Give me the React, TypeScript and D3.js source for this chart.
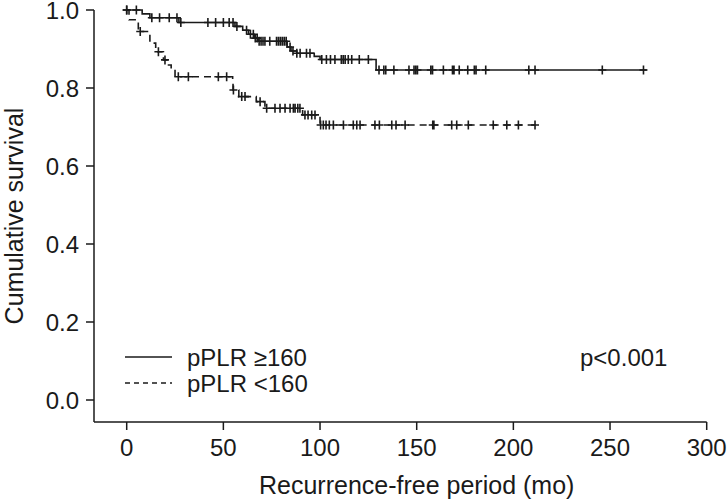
import React from "react";
import * as d3 from "d3";

// Kaplan-Meier step data: [time (mo), survival after event]
const highSteps: [number, number][] = [
  [0, 1.0], [8, 0.99], [12, 0.98], [27, 0.968], [56, 0.958], [60, 0.948],
  [63, 0.938], [66, 0.928], [68, 0.92], [83, 0.905], [85, 0.895], [88, 0.889],
  [97, 0.881], [100, 0.873], [129, 0.846],
];
const highEnd = 269;
const highCensor: number[] = [
  0, 5, 13, 17, 22, 26, 28, 42, 46, 50, 53, 55, 57, 62, 64, 65.5, 66.5, 67.5, 68.5,
  69.5, 70.5, 71.5, 74, 77.5, 78.5, 79.5, 80.5, 81.5, 82.5, 84.5, 86, 88, 89.7, 93,
  94.8, 100.9, 103.3, 105.4, 107.7, 111, 112, 113, 114.6, 116.4, 120.3, 125, 130.5,
  133, 134, 138.2, 146, 148.6, 149.5, 150.4, 157.3, 158.2, 163.8, 168.5, 169.3, 172,
  176.4, 179.8, 180.7, 185.7, 208, 211.2, 246, 267.3,
];

const lowSteps: [number, number][] = [
  [0, 1.0], [1.2, 0.975], [6, 0.945], [12, 0.915], [15, 0.893], [19, 0.872],
  [21, 0.859], [23, 0.845], [25, 0.829], [54.8, 0.812], [55, 0.795], [58, 0.778],
  [67, 0.765], [71.5, 0.748], [91, 0.731], [100, 0.705],
];
const lowEnd = 212.9;
const lowCensor: number[] = [
  0, 7, 16.4, 19.8, 26.7, 31.9, 47.4, 51.7, 55.2, 59.5, 61.2, 69, 72.4, 76.7, 79.3,
  81.9, 84.5, 86.2, 87.1, 88.5, 89.6, 92.2, 93.8, 95.7, 97.4, 100.3, 101.7, 103.1,
  104.8, 106.9, 112.1, 117.2, 119, 120.7, 128.4, 130.7, 137.1, 139.3, 144, 158.3,
  158.6, 158.9, 168.1, 170.7, 176.7, 189.6, 196.6, 202.6, 211.2,
];

const xTicks = [0, 50, 100, 150, 200, 250, 300];
const yTicks = [0, 0.2, 0.4, 0.6, 0.8, 1.0];
const legendLabels = ["pPLR \u2265160", "pPLR <160"];
const pValueText = "p<0.001";
const xTitle = "Recurrence-free period (mo)";
const yTitle = "Cumulative survival";

const FONT = "'Liberation Sans', Arial, Helvetica, sans-serif";
const INK = "#1a1a1a";

export default function App() {
  const x = d3.scaleLinear().domain([0, 300]).range([126.7, 706.7]);
  const y = d3.scaleLinear().domain([0, 1]).range([400, 10]);
  const axisX = 94;
  const axisY = 422;

  const line = d3
    .line<[number, number]>()
    .x((d) => x(d[0]))
    .y((d) => y(d[1]))
    .curve(d3.curveStepAfter);

  const survAt = (steps: [number, number][], t: number) => {
    let s = steps[0][1];
    for (const [st, sv] of steps) if (st <= t) s = sv;
    return s;
  };

  const buildPath = (steps: [number, number][], end: number) =>
    line([...steps, [end, steps[steps.length - 1][1]]]) || "";

  const crosses = (steps: [number, number][], cens: number[]) =>
    cens
      .map((t) => {
        const cx = x(t);
        const cy = y(survAt(steps, t));
        return `M${cx - 4},${cy}H${cx + 4}M${cx},${cy - 4.5}V${cy + 4.5}`;
      })
      .join("");

  const fs = 24;
  const fsTitle = 25;

  return (
    <svg
      width={728}
      height={503}
      style={{ position: "absolute", left: 0, top: 0, background: "#fff" }}
      fontFamily={FONT}
    >
      <rect width={728} height={503} fill="#fff" />
      {/* axes */}
      <line x1={axisX} x2={axisX} y1={y(1)} y2={axisY} stroke={INK} strokeWidth={1.5} />
      <line x1={axisX} x2={x(300)} y1={axisY} y2={axisY} stroke={INK} strokeWidth={1.5} />
      {yTicks.map((v) => (
        <g key={"y" + v}>
          <line x1={axisX - 8} x2={axisX} y1={y(v)} y2={y(v)} stroke={INK} strokeWidth={1.5} />
          <text x={axisX - 15} y={y(v)} dy="0.36em" textAnchor="end" fontSize={fs} fill={INK}>
            {v.toFixed(1)}
          </text>
        </g>
      ))}
      {xTicks.map((v) => (
        <g key={"x" + v}>
          <line x1={x(v)} x2={x(v)} y1={axisY} y2={axisY + 8} stroke={INK} strokeWidth={1.5} />
          <text x={x(v)} y={axisY + 34} textAnchor="middle" fontSize={fs} fill={INK}>
            {v}
          </text>
        </g>
      ))}
      <text x={(x(0) + x(300)) / 2} y={494} textAnchor="middle" fontSize={fsTitle} fill={INK}>
        {xTitle}
      </text>
      <text
        transform={`translate(23,${(y(1) + axisY) / 2}) rotate(-90)`}
        textAnchor="middle"
        fontSize={fsTitle}
        fill={INK}
      >
        {yTitle}
      </text>

      {/* curves */}
      <path d={buildPath(highSteps, highEnd)} fill="none" stroke={INK} strokeWidth={1.6} />
      <path d={crosses(highSteps, highCensor)} fill="none" stroke={INK} strokeWidth={1.6} />
      <path
        d={buildPath(lowSteps, lowEnd)}
        fill="none"
        stroke={INK}
        strokeWidth={1.6}
        strokeDasharray="7,5"
      />
      <path d={crosses(lowSteps, lowCensor)} fill="none" stroke={INK} strokeWidth={1.6} />

      {/* legend */}
      <line x1={125} x2={172} y1={357} y2={357} stroke={INK} strokeWidth={1.5} />
      <text x={187} y={357} dy="0.36em" fontSize={fs} fill={INK}>
        {legendLabels[0]}
      </text>
      <line x1={125} x2={172} y1={383} y2={383} stroke={INK} strokeWidth={1.5} strokeDasharray="5,4" />
      <text x={187} y={383} dy="0.36em" fontSize={fs} fill={INK}>
        {legendLabels[1]}
      </text>
      <text x={580} y={357} dy="0.36em" fontSize={fs} fill={INK}>
        {pValueText}
      </text>
    </svg>
  );
}
